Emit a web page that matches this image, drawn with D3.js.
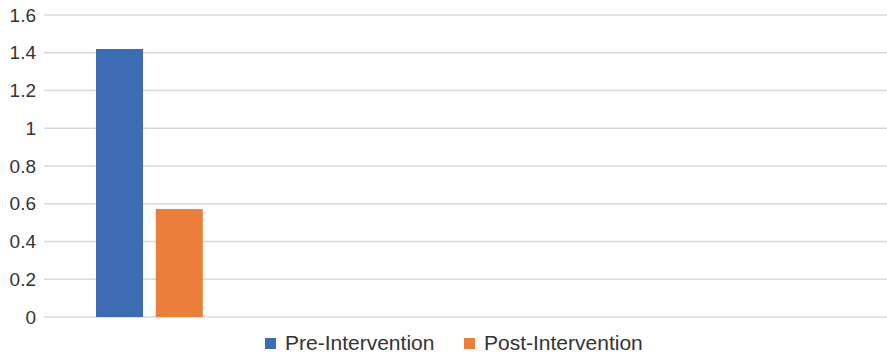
<!DOCTYPE html>
<html>
<head>
<meta charset="utf-8">
<script src="https://cdn.jsdelivr.net/npm/d3@7"></script>
<style>
  html, body { margin: 0; padding: 0; background: #fff; }
  svg { display: block; font-family: "Liberation Sans", Arial, sans-serif; }
</style>
</head>
<body>
<div id="chart"></div>
<script>
// category slots on the x axis (only the first one carries data)
const categories = ["A", "B", "C", "D"];
const series = ["Pre-Intervention", "Post-Intervention"];
const preValues = [1.42, null, null, null];
const postValues = [0.572, null, null, null];
const yTicks = [0, 0.2, 0.4, 0.6, 0.8, 1, 1.2, 1.4, 1.6];
const colors = ["#3c6db4", "#eb7e3a"];

const W = 887, H = 353;
const margin = { top: 15, right: 0, bottom: 36, left: 44 };
const width = W - margin.left - margin.right;
const height = H - margin.top - margin.bottom;

const svg = d3.select('#chart').append('svg')
  .attr('width', W)
  .attr('height', H);

const g = svg.append('g')
  .attr('transform', `translate(${margin.left},${margin.top})`);

const x0 = d3.scaleBand().domain(categories).range([0, width]);
const x1 = d3.scaleBand().domain(series)
  .range([0, x0.bandwidth()])
  .paddingInner(0.213)
  .paddingOuter(0.87);
const y = d3.scaleLinear().domain([0, 1.6]).range([height, 0]);

// gridlines
g.selectAll('.grid')
  .data(yTicks)
  .enter().append('line')
  .attr('x1', 0).attr('x2', width)
  .attr('y1', d => y(d)).attr('y2', d => y(d))
  .attr('stroke', '#d9d9d9')
  .attr('stroke-width', 1.3);

// y axis labels
const yAxis = g.append('g')
  .call(d3.axisLeft(y).tickValues(yTicks).tickSize(0).tickPadding(8).tickFormat(d3.format('')));
yAxis.select('.domain').remove();
yAxis.selectAll('text')
  .attr('fill', '#333')
  .style('font-size', '19px')
  .style('font-family', '"Liberation Sans", Arial, sans-serif');

// bars
const rows = categories.map((c, i) => ({ cat: c, vals: [preValues[i], postValues[i]] }));
const groups = g.selectAll('.grp')
  .data(rows)
  .enter().append('g')
  .attr('transform', d => `translate(${x0(d.cat)},0)`);

groups.selectAll('rect')
  .data(d => d.vals.map((v, j) => ({ s: series[j], v, j })).filter(e => e.v != null))
  .enter().append('rect')
  .attr('x', d => x1(d.s))
  .attr('width', x1.bandwidth())
  .attr('y', d => y(d.v))
  .attr('height', d => y(0) - y(d.v))
  .attr('fill', d => colors[d.j]);

// legend
const legendX = [265, 464];
const legend = svg.append('g');
series.forEach((s, i) => {
  legend.append('rect')
    .attr('x', legendX[i]).attr('y', 338)
    .attr('width', 11).attr('height', 11)
    .attr('fill', colors[i]);
  legend.append('text')
    .attr('x', legendX[i] + 20).attr('y', 350)
    .attr('fill', '#333')
    .style('font-size', '21px')
    .text(s);
});
</script>
</body>
</html>
